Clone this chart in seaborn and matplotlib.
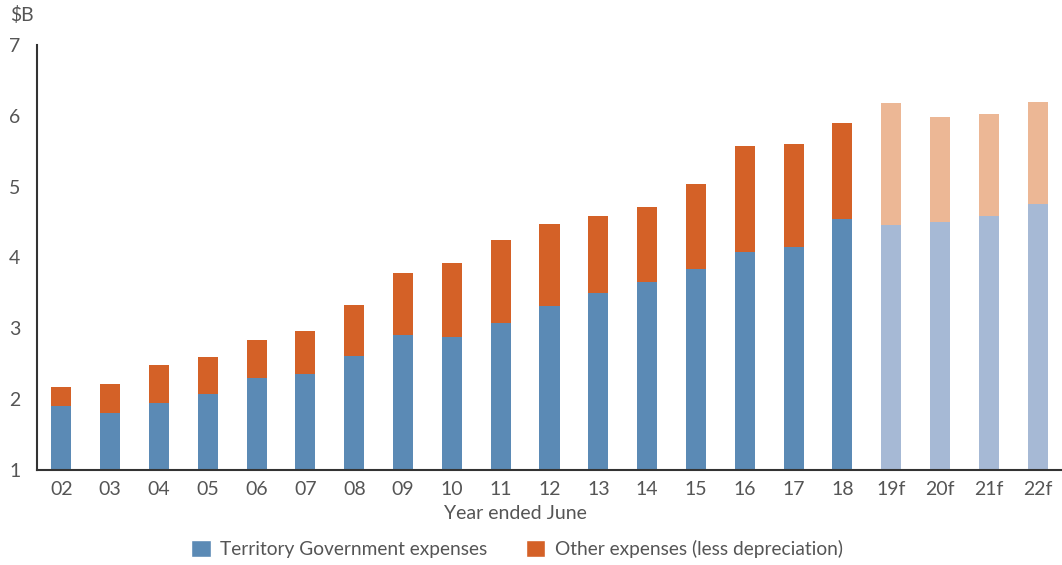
import matplotlib
matplotlib.use("Agg")
import matplotlib.pyplot as plt
import seaborn as sns
import pandas as pd
from matplotlib.patches import Patch

years = ["02", "03", "04", "05", "06", "07", "08", "09", "10", "11", "12",
         "13", "14", "15", "16", "17", "18", "19f", "20f", "21f", "22f"]
territory = [1.90, 1.81, 1.94, 2.08, 2.30, 2.355, 2.61, 2.90, 2.88, 3.08, 3.31,
             3.50, 3.66, 3.84, 4.08, 4.15, 4.54, 4.46, 4.50, 4.59, 4.76]
total = [2.17, 2.22, 2.48, 2.59, 2.835, 2.96, 3.33, 3.78, 3.92, 4.25, 4.48,
         4.58, 4.71, 5.04, 5.57, 5.60, 5.90, 6.18, 5.98, 6.03, 6.20]
forecast = [y.endswith("f") for y in years]

df = pd.DataFrame({"year": years, "territory": territory, "total": total})

BLUE, BLUE_F = "#5B8AB5", "#A6B9D5"
ORANGE, ORANGE_F = "#D46127", "#ECB795"
blue_pal = [BLUE_F if f else BLUE for f in forecast]
orange_pal = [ORANGE_F if f else ORANGE for f in forecast]

sns.set_theme(style="white")
plt.rcParams["font.family"] = ["Lato", "DejaVu Sans"]
TXT = "#555555"
W = "normal"

fig = plt.figure(figsize=(10.62, 5.65), dpi=100)
ax = fig.add_axes([37 / 1062, 95 / 565, 1 - 37 / 1062, 425 / 565])

sns.barplot(data=df, x="year", y="total", hue="year", palette=orange_pal,
            width=0.41, legend=False, ax=ax, saturation=1, linewidth=0)
sns.barplot(data=df, x="year", y="territory", hue="year", palette=blue_pal,
            width=0.41, legend=False, ax=ax, saturation=1, linewidth=0)

ax.set_xlim(-0.5, len(years) - 0.5)
ax.set_ylim(1, 7)
ax.set_yticks([1, 2, 3, 4, 5, 6, 7])
ax.tick_params(axis="both", length=0, labelsize=14, labelcolor=TXT)
ax.tick_params(axis="x", pad=8)
ax.tick_params(axis="y", pad=12)
for lab in ax.get_xticklabels() + ax.get_yticklabels():
    lab.set_fontweight(W)
ax.set_ylabel("")
ax.set_xlabel("Year ended June", fontsize=14, color=TXT, fontweight=W)
ax.xaxis.set_label_coords(0.467, -0.082)
for s in ["top", "right"]:
    ax.spines[s].set_visible(False)
for s in ["left", "bottom"]:
    ax.spines[s].set_color("#333333")
    ax.spines[s].set_linewidth(1.5)

fig.text(22 / 1062, 1 - 15 / 565, "$B", fontsize=14, color=TXT, fontweight=W,
         ha="center", va="center")

handles = [Patch(facecolor=BLUE, label="Territory Government expenses"),
           Patch(facecolor=ORANGE, label="Other expenses (less depreciation)")]
leg = fig.legend(handles=handles, loc="center", bbox_to_anchor=(517 / 1062, 1 - 549 / 565),
                 ncol=2, frameon=False, fontsize=13.8, handlelength=1.0, handleheight=1.0,
                 columnspacing=2.0, handletextpad=0.5)
for t in leg.get_texts():
    t.set_color(TXT)
    t.set_fontweight(W)

fig.savefig("out.png", dpi=100)
